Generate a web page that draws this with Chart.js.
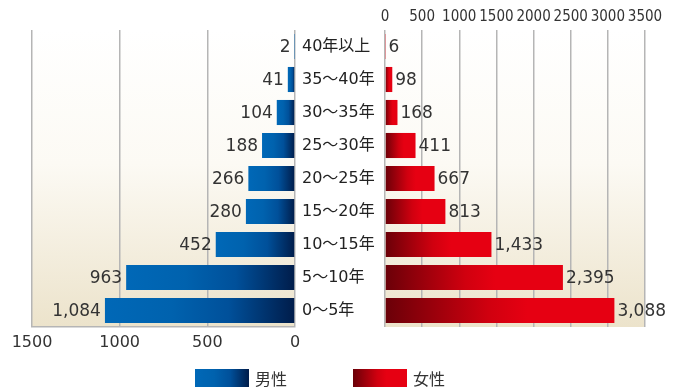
<!DOCTYPE html>
<html lang="ja">
<head>
<meta charset="utf-8">
<title>勤続年数別 男女人数</title>
<script src="https://cdn.jsdelivr.net/npm/chart.js@4"></script>
<style>
  body { margin: 0; background: #fff; }
  #wrap { position: relative; width: 682px; height: 392px; overflow: hidden; }
  canvas { position: absolute; top: 0; }
  #maleChart { left: 0; }
  #femaleChart { left: 290px; }
  .legend { position: absolute; top: 369px; height: 18px; display: flex; align-items: center;
            font: 16px "Noto Sans CJK JP", sans-serif; color: #333; }
  .swatch { width: 54px; height: 18px; margin-right: 6px; }
  #legendMale { left: 195px; }
  #legendMale .swatch { background: linear-gradient(to right, #0068b7 0%, #0062ae 35%, #00509a 65%, #001c4a 100%); }
  #legendFemale { left: 353px; }
  #legendFemale .swatch { background: linear-gradient(to right, #6a0008 0%, #d0000f 45%, #e60012 62%, #e60012 100%); }
</style>
</head>
<body>
<div id="wrap">
  <canvas id="maleChart" width="310" height="392"></canvas>
  <canvas id="femaleChart" width="392" height="392"></canvas>
  <div class="legend" id="legendMale"><div class="swatch"></div>男性</div>
  <div class="legend" id="legendFemale"><div class="swatch"></div>女性</div>
</div>
<script>
// 勤続年数の区分（上から順）
const ageGroups = ['40年以上', '35～40年', '30～35年', '25～30年', '20～25年', '15～20年', '10～15年', '5～10年', '0～5年'];
const maleCounts = [2, 41, 104, 188, 266, 280, 452, 963, 1084];
const femaleCounts = [6, 98, 168, 411, 667, 813, 1433, 2395, 3088];

// 軸の範囲と目盛り間隔
const maleAxisMax = 1500;
const femaleAxisMax = 3500;
const tickStep = 500;

const gridColor = '#b5b5b5';
const textColor = '#333';

// 0 側（内側）から外側へのグラデーション
const maleStops = [[0, '#001c4a'], [0.35, '#00509a'], [0.65, '#0062ae'], [1, '#0068b7']];
const femaleStops = [[0, '#6a0008'], [0.45, '#d0000f'], [0.62, '#e60012'], [1, '#e60012']];

function barGradient(context, stops) {
  const chart = context.chart;
  const xScale = chart.scales.x;
  if (!chart.chartArea || !xScale) return stops[stops.length - 1][1];
  const start = xScale.getPixelForValue(0);
  const end = xScale.getPixelForValue(context.raw);
  if (Math.abs(end - start) < 0.5) return stops[stops.length - 1][1];
  const g = chart.ctx.createLinearGradient(start, 0, end, 0);
  stops.forEach(([pos, col]) => g.addColorStop(pos, col));
  return g;
}

// プロット領域の背景（白からベージュへ）
const plotBackground = {
  id: 'plotBackground',
  beforeDraw(chart) {
    const { ctx, chartArea: { left, top, right, bottom } } = chart;
    const g = ctx.createLinearGradient(0, top, 0, bottom);
    g.addColorStop(0, '#ffffff');
    g.addColorStop(0.45, '#fcfaf4');
    g.addColorStop(1, '#ece3cb');
    ctx.save();
    ctx.fillStyle = g;
    ctx.fillRect(left, top, right - left, bottom - top);
    ctx.restore();
  }
};

// 棒の先端に人数を表示
const valueLabels = {
  id: 'valueLabels',
  afterDatasetsDraw(chart, args, opts) {
    const { ctx } = chart;
    const meta = chart.getDatasetMeta(0);
    const values = chart.data.datasets[0].data;
    ctx.save();
    ctx.font = '17px "DejaVu Sans", sans-serif';
    ctx.fillStyle = textColor;
    ctx.textBaseline = 'middle';
    ctx.textAlign = opts.side === 'left' ? 'right' : 'left';
    meta.data.forEach((bar, i) => {
      const x = opts.side === 'left' ? bar.x - 4 : bar.x + 3;
      ctx.fillText(values[i].toLocaleString('en-US'), x, bar.y + 1);
    });
    ctx.restore();
  }
};

// 目盛りはカンマなし
const plainTick = v => String(v);

// 男性（左側・反転軸）
new Chart(document.getElementById('maleChart'), {
  type: 'bar',
  data: {
    labels: ageGroups,
    datasets: [{
      label: '男性',
      data: maleCounts,
      backgroundColor: c => barGradient(c, maleStops),
      categoryPercentage: 1,
      barPercentage: 0.76
    }]
  },
  options: {
    indexAxis: 'y',
    responsive: false,
    animation: false,
    devicePixelRatio: 1,
    layout: { padding: { left: 32, right: 15, top: 30, bottom: 0 } },
    plugins: { legend: { display: false }, tooltip: { enabled: false }, valueLabels: { side: 'left' } },
    scales: {
      x: {
        reverse: true,
        min: 0,
        max: maleAxisMax,
        position: 'bottom',
        ticks: { stepSize: tickStep, padding: 6, color: textColor, maxRotation: 0, callback: plainTick,
                 font: { family: '"DejaVu Sans", sans-serif', size: 16 } },
        grid: { color: gridColor, lineWidth: 1.5, drawTicks: false },
        border: { color: gridColor, width: 1.5 },
        afterFit(s) { s.height = 65; }
      },
      y: { display: false }
    }
  },
  plugins: [plotBackground, valueLabels]
});

// 女性（右側・上に目盛り）
new Chart(document.getElementById('femaleChart'), {
  type: 'bar',
  data: {
    labels: ageGroups,
    datasets: [{
      label: '女性',
      data: femaleCounts,
      backgroundColor: c => barGradient(c, femaleStops),
      categoryPercentage: 1,
      barPercentage: 0.76
    }]
  },
  options: {
    indexAxis: 'y',
    responsive: false,
    animation: false,
    devicePixelRatio: 1,
    layout: { padding: { left: 12, right: 37, top: 0, bottom: 65 } },
    plugins: { legend: { display: false }, tooltip: { enabled: false }, valueLabels: { side: 'right' } },
    scales: {
      x: {
        min: 0,
        max: femaleAxisMax,
        position: 'top',
        ticks: { stepSize: tickStep, padding: 4, color: textColor, maxRotation: 0, minRotation: 0,
                 autoSkip: false, callback: plainTick,
                 font: { family: '"Liberation Sans Narrow", "DejaVu Sans Condensed", sans-serif', size: 15 } },
        grid: { color: gridColor, lineWidth: 1.5, drawTicks: false },
        border: { display: false },
        afterFit(s) { s.height = 30; }
      },
      y: {
        position: 'left',
        grid: { display: false },
        border: { display: false },
        ticks: { crossAlign: 'far', padding: 0, color: '#222',
                 font: { family: '"DejaVu Sans", "Noto Sans CJK JP", sans-serif', size: 16 } },
        afterFit(s) { s.width = 83; }
      }
    }
  },
  plugins: [plotBackground, valueLabels]
});
</script>
</body>
</html>
